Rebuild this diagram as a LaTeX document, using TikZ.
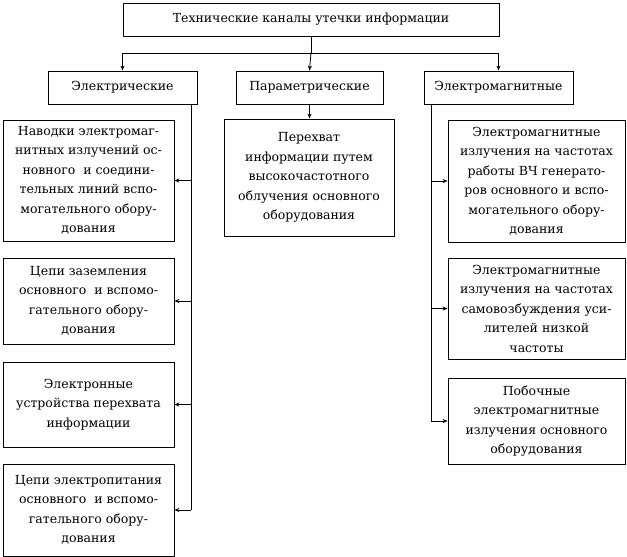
\documentclass[tikz,border=0pt]{standalone}
\usepackage{fontspec}
\setmainfont{DejaVu Serif}
\usetikzlibrary{arrows.meta}
\begin{document}
\begin{tikzpicture}[x=1pt,y=-1pt,
  box/.style={draw,line width=0.8pt,inner sep=0pt,align=center,
    font=\fontsize{12.5}{19.5}\selectfont},
  conn/.style={line width=0.8pt},
  arr/.style={conn,-{Stealth[length=5pt,width=4pt]}}]
\useasboundingbox (0,0) rectangle (627,557);
\node[box,minimum width=376,minimum height=33] (top) at (311,19.5) {Технические каналы утечки информации};
\node[box,minimum width=149,minimum height=33] (E) at (122.5,87.5) {Электрические};
\node[box,minimum width=147,minimum height=33] (P) at (309.5,87.5) {Параметрические};
\node[box,minimum width=149,minimum height=33] (EM) at (498.5,87.5) {Электромагнитные};
\node[box,minimum width=170,minimum height=117] (PX) at (309,177.5) {Перехват\\информации путем\\высокочастотного\\облучения основного\\оборудования};
\node[box,minimum width=171,minimum height=121] (L1) at (88.5,180.5) {Наводки электромаг-\\нитных излучений ос-\\новного\ \ и соедини-\\тельных линий вспо-\\могательного обору-\\дования};
\node[box,minimum width=171,minimum height=86] (L2) at (88.5,301) {Цепи заземления\\основного\ \ и вспомо-\\гательного обору-\\дования};
\node[box,minimum width=171,minimum height=85] (L3) at (88.5,404.5) {Электронные\\устройства перехвата\\информации};
\node[box,minimum width=171,minimum height=92] (L4) at (88.5,510) {Цепи электропитания\\основного\ \ и вспомо-\\гательного обору-\\дования};
\node[box,minimum width=177,minimum height=122] (R1) at (536.5,181) {Электромагнитные\\излучения на частотах\\работы ВЧ генерато-\\ров основного и вспо-\\могательного обору-\\дования};
\node[box,minimum width=177,minimum height=101] (R2) at (536.5,308.5) {Электромагнитные\\излучения на частотах\\самовозбуждения уси-\\лителей низкой\\частоты};
\node[box,minimum width=177,minimum height=86] (R3) at (536.5,421) {Побочные\\электромагнитные\\излучения основного\\оборудования};
\coordinate (bus) at (311,53);
\coordinate (eL) at (191,104);
\coordinate (eR) at (431,104);
% top distribution
\draw[conn] (top.south) -- (top.south |- bus);
\draw[conn] (E.north |- bus) -- (EM.north |- bus);
\draw[arr] (E.north |- bus) -- (E.north);
\draw[arr] (top.south |- bus) -- (P.north);
\draw[arr] (EM.north |- bus) -- (EM.north);
\draw[arr] (P.south) -- (P.south |- PX.north);
% left column
\draw[conn] (eL) -- (eL |- L4.east);
\draw[arr] (eL |- L1.east) -- (L1.east);
\draw[arr] (eL |- L2.east) -- (L2.east);
\draw[arr] (eL |- L3.east) -- (L3.east);
\draw[arr] (eL |- L4.east) -- (L4.east);
% right column
\draw[conn] (eR) -- (eR |- R3.west);
\draw[arr] (eR |- R1.west) -- (R1.west);
\draw[arr] (eR |- R2.west) -- (R2.west);
\draw[arr] (eR |- R3.west) -- (R3.west);
\end{tikzpicture}
\end{document}
